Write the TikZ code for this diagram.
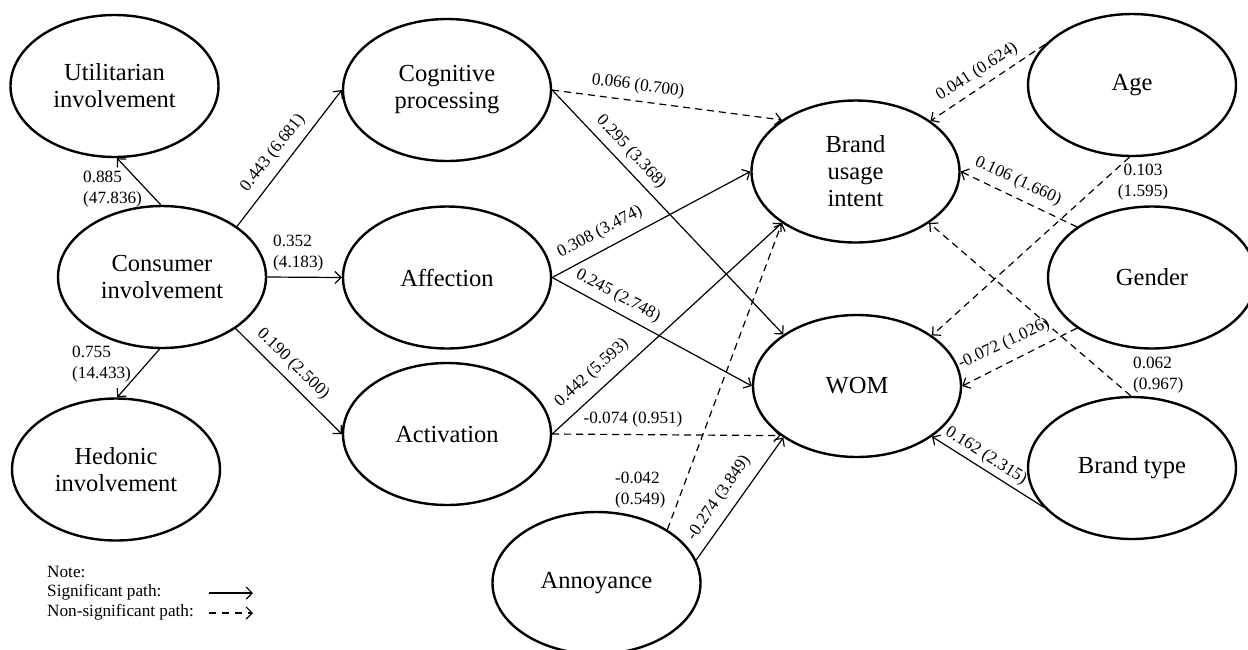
\documentclass[tikz,border=0pt]{standalone}
\usepackage{fontspec}
\setmainfont{Liberation Serif}
\usetikzlibrary{shapes.geometric,arrows.meta}
\tikzset{
  latent/.style={ellipse, draw, line width=2.4pt, minimum width=208pt, minimum height=142pt, inner sep=0pt, align=center, font=\fontsize{24.5}{27}\selectfont},
  sig/.style={line width=1.2pt, -{Straight Barb[length=6pt,width=12pt,line width=1.2pt]}},
  nsig/.style={sig, dash pattern=on 7pt off 5pt},
  lbl/.style={font=\fontsize{17.2}{20.5}\selectfont, inner sep=0pt},
}
\begin{document}
\begin{tikzpicture}[x=1pt,y=-1pt]
\useasboundingbox (0,0) rectangle (1248,649);
% latent variables
\node[latent] (U) at (114.5,86) {Utilitarian\\involvement};
\node[latent] (C) at (162,277) {Consumer\\involvement};
\node[latent] (H) at (116,469.5) {Hedonic\\involvement};
\node[latent] (G) at (447,90) {Cognitive\\processing};
\node[latent] (A) at (447,277.5) {Affection};
\node[latent] (V) at (447,434) {Activation};
\node[latent] (B) at (855.5,171.5) {Brand\\usage\\intent};
\node[latent] (W) at (857,386) {WOM};
\node[latent] (N) at (596.5,583) {Annoyance};
\node[latent] (Y) at (1132,85) {Age};
\node[latent] (D) at (1152,277.5) {Gender};
\node[latent] (T) at (1132,468) {Brand type};
% paths
\draw[sig] (C.91.6) -- (U.-88);
\draw[sig] (C.268.4) -- (H.89);
\draw[sig] (C.34) -- (G.west);
\draw[sig] (C.east) -- (A.west);
\draw[sig] (C.-35) -- (V.west);
\draw[nsig] (G.east) -- (B.145);
\draw[sig] (G.east) -- (W.145);
\draw[sig] (A.east) -- (B.west);
\draw[sig] (A.east) -- (W.west);
\draw[sig] (V.east) -- (B.215);
\draw[nsig] (V.east) -- (W.213);
\draw[nsig] (N.37.6) -- (B.215);
\draw[sig] (N.13) -- (W.215);
\draw[nsig] (Y.155) -- (B.34);
\draw[nsig] (Y.268) -- (W.34);
\draw[nsig] (D.146) -- (B.east);
\draw[nsig] (D.214) -- (W.east);
\draw[nsig] (T.91.6) -- (B.-35);
\draw[sig] (T.204) -- (W.-34);
% labels
\node[lbl, align=left, anchor=west] (l1) at (83,189) {0.885\\(47.836)};
\node[lbl, align=left, anchor=west] (l2) at (72,364) {0.755\\(14.433)};
\node[lbl, rotate=51.7] (l3) at (273,153) {0.443 (6.681)};
\node[lbl, align=left, anchor=west] (l4) at (273,253) {0.352\\(4.183)};
\node[lbl, rotate=-43.9] (l5) at (293,364) {0.190 (2.500)};
\node[lbl, rotate=-7.4] (l6) at (638,86) {0.066 (0.700)};
\node[lbl, rotate=-46.7] (l7) at (631,152) {0.295 (3.368)};
\node[lbl, rotate=27.5] (l8) at (600,232) {0.308 (3.474)};
\node[lbl, rotate=-28.3] (l9) at (618,296) {0.245 (2.748)};
\node[lbl, rotate=42.4] (l10) at (592,373) {0.442 (5.593)};
\node[lbl] (l11) at (633,419) {-0.074 (0.951)};
\node[lbl, align=left, anchor=west] (l12) at (615,490) {-0.042\\(0.549)};
\node[lbl, rotate=55.5] (l13) at (719,498) {-0.274 (3.849)};
\node[lbl, rotate=33] (l14) at (977,72) {0.041 (0.624)};
\node[lbl, align=center] (l15) at (1143,182) {0.103\\(1.595)};
\node[lbl, rotate=-25] (l16) at (1018,181) {0.106 (1.660)};
\node[lbl, rotate=25] (l17) at (1004,344) {-0.072 (1.026)};
\node[lbl, align=left, anchor=west] (l18) at (1133,375) {0.062\\(0.967)};
\node[lbl, rotate=-32.6] (l19) at (986,456) {0.162 (2.315)};
% legend
\node[lbl, anchor=west] (n1) at (47,572) {Note:};
\node[lbl, anchor=west] (n2) at (47,592) {Significant path:};
\node[lbl, anchor=west] (n3) at (47,612) {Non-significant path:};
\coordinate (s1) at (209,593);
\coordinate (s2) at (253,593);
\coordinate (d1) at (209,613);
\coordinate (d2) at (253,613);
\draw[sig] (s1) -- (s2);
\draw[sig, dash pattern=on 7pt off 6pt] (d1) -- (d2);
\end{tikzpicture}
\end{document}
